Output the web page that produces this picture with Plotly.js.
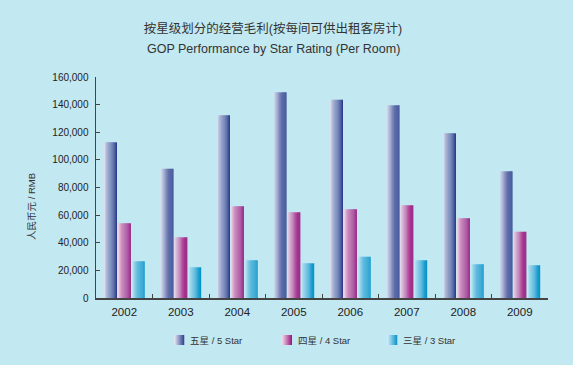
<!DOCTYPE html>
<html>
<head>
<meta charset="utf-8">
<script src="https://cdn.plot.ly/plotly-3.0.1.min.js"></script>
<style>html,body{margin:0;padding:0;background:#c2e8f1;}#chart{width:573px;height:365px;}</style>
</head>
<body>
<div id="chart"></div>
<script>
// ---- data ----
const years = ['2002','2003','2004','2005','2006','2007','2008','2009'];
const fiveStar  = [112700, 93600, 132300, 148900, 143600, 139500, 119200, 91700];
const fourStar  = [54100, 43900, 66400, 62000, 64200, 67100, 57700, 48000];
const threeStar = [26600, 22200, 27300, 25100, 29900, 27300, 24400, 23700];
const seriesNames = ['五星 / 5 Star', '四星 / 4 Star', '三星 / 3 Star'];

// ---- styling ----
const font = 'Liberation Sans, Arial, Noto Sans CJK SC, sans-serif';
const bg = '#c2e8f1';
const grads = [
  ['#eceef8', '#28398a'],
  ['#f6e6f1', '#95107a'],
  ['#d6f0f8', '#0090c8']
];
const seriesVals = [fiveStar, fourStar, threeStar];
const barW = 0.23, pitch = 0.245, K = 12;

function hex2rgb(h){return [1,3,5].map(i=>parseInt(h.substr(i,2),16));}
function mix(a,b,t){const A=hex2rgb(a),B=hex2rgb(b);return 'rgb('+A.map((v,i)=>Math.round(v+(B[i]-v)*t)).join(',')+')';}

const traces = [];
seriesVals.forEach((vals, s) => {
  const start = -((3*pitch - (pitch-barW))/2) + s*pitch;
  for (let k = 0; k < K; k++) {
    const t = Math.pow((k+0.5)/K, 0.75);
    traces.push({
      type: 'bar', x: years, y: vals,
      offset: start + k*barW/K, width: barW/K + 0.002,
      marker: {color: mix(grads[s][0], grads[s][1], t), line: {width: 0}},
      showlegend: false, hoverinfo: 'skip',
      name: seriesNames[s]
    });
  }
});

function gradSvg(c0, c1){
  const svg = "<svg xmlns='http://www.w3.org/2000/svg' width='10' height='10'><defs><linearGradient id='g'><stop offset='0' stop-color='"+c0+"'/><stop offset='1' stop-color='"+c1+"'/></linearGradient></defs><rect width='10' height='10' fill='url(#g)'/></svg>";
  return 'data:image/svg+xml;base64,' + btoa(svg);
}

const legendX = [174, 281.5, 387]; // pixel left of swatch
const images = [], annotations = [];
const W = 573, H = 365;
legendX.forEach((px, i) => {
  images.push({source: gradSvg(grads[i][0], grads[i][1]), xref: 'paper', yref: 'paper',
    x: (px - 96)/452, y: (298 - 335)/221, sizex: 10.5/452, sizey: 10/221,
    xanchor: 'left', yanchor: 'top', sizing: 'stretch', layer: 'above'});
  annotations.push({text: seriesNames[i], xref: 'paper', yref: 'paper',
    x: (px + 14 - 96)/452, y: (298 - 340)/221, xanchor: 'left', yanchor: 'middle',
    showarrow: false, font: {family: font, size: 9.5, color: '#333'}});
});
annotations.push({text: 'GOP Performance by Star Rating (Per Room)', xref: 'paper', yref: 'paper',
  x: (273 - 96)/452, y: (298 - 49)/221, xanchor: 'center', yanchor: 'middle', showarrow: false,
  font: {family: font, size: 12.5, color: '#333'}});
annotations.push({text: '人民币元 / RMB', xref: 'paper', yref: 'paper',
  x: (31 - 96)/452, y: (298 - 207)/221, xanchor: 'center', yanchor: 'middle', textangle: -90,
  showarrow: false, font: {family: font, size: 9.5, color: '#333'}});

const layout = {
  width: W, height: H,
  paper_bgcolor: bg, plot_bgcolor: bg,
  margin: {l: 96, r: 25, t: 77, b: 67},
  barmode: 'overlay',
  showlegend: false,
  font: {family: font, color: '#333'},
  title: {text: '按星级划分的经营毛利(按每间可供出租客房计)', x: 273/W, xanchor: 'center',
    y: 1 - 29/H, yanchor: 'middle', yref: 'container', font: {family: font, size: 12.5, color: '#333'}},
  xaxis: {type: 'category', showline: true, linecolor: '#444', linewidth: 1.5,
    ticks: 'inside', tickson: 'boundaries', ticklen: 4, tickcolor: '#444', tickwidth: 1,
    showgrid: false, zeroline: false, tickfont: {size: 11.5, color: '#222'}, ticklabelstandoff: 3},
  yaxis: {range: [0, 160000], dtick: 20000, tickformat: ',', showline: true, linecolor: '#444', linewidth: 1.5,
    ticks: 'inside', ticklen: 4, tickcolor: '#444', tickwidth: 1, showgrid: false, zeroline: false,
    tickfont: {size: 10, color: '#222'}, ticklabelstandoff: 4},
  images: images,
  annotations: annotations
};
Plotly.newPlot('chart', traces, layout, {displayModeBar: false, staticPlot: true});
</script>
</body>
</html>
